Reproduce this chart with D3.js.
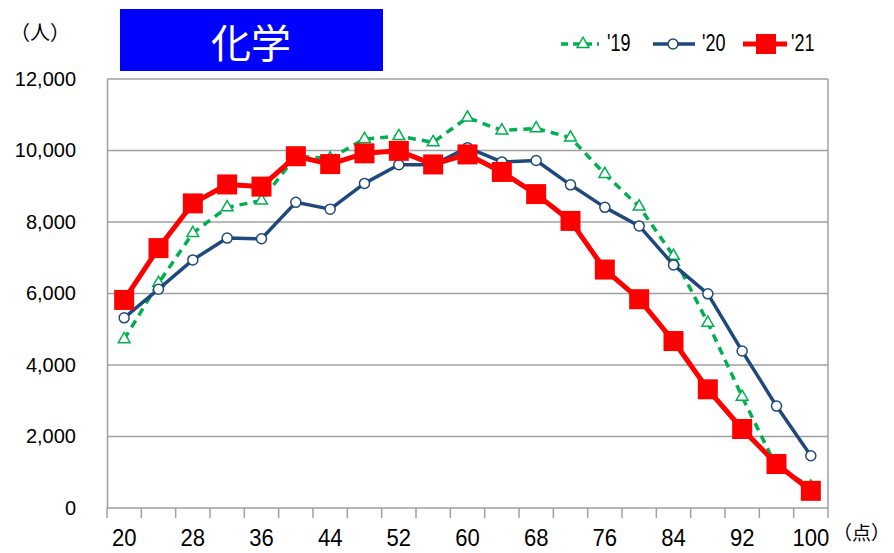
<!DOCTYPE html>
<html lang="ja">
<head>
<meta charset="utf-8">
<script src="https://d3js.org/d3.v7.min.js"></script>
<style>
  body { margin: 0; background: #fff; }
  svg text { font-family: "Liberation Sans", Arial, sans-serif; fill: #000; }
  svg text.jp { font-family: "Noto Sans CJK JP", sans-serif; }
</style>
</head>
<body>
<div class="display1"></div>
<script>
// scores (点)
var scores = [20,24,28,32,36,40,44,48,52,56,60,64,68,72,76,80,84,88,92,96,100];
var tickLabels = [20,28,36,44,52,60,68,76,84,92,100];
var yTicks = [0,2000,4000,6000,8000,10000,12000];

// number of people per score
var y19 = [4720,6290,7690,8410,8600,9840,9780,10320,10400,10230,10920,10560,10620,10360,9340,8430,7050,5180,3110,1150,600];
var y20 = [5320,6120,6940,7550,7530,8550,8360,9080,9600,9600,10080,9680,9720,9040,8410,7890,6800,5990,4390,2850,1460];
var y21 = [5820,7270,8520,9050,8990,9840,9620,9920,9990,9610,9890,9400,8780,8030,6670,5840,4670,3320,2210,1230,480];

var width = 894, height = 553;
var svg = d3.select('.display1').append('svg').attr('width', width).attr('height', height);

var x = d3.scaleBand().domain(scores).range([107, 828]);
var y = d3.scaleLinear().domain([0, 12000]).range([508, 79]);
var cx = function(d) { return x(d) + x.bandwidth() / 2; };

// gridlines
svg.append('g').selectAll('line').data(yTicks.slice(1)).join('line')
  .attr('x1', 107).attr('x2', 828)
  .attr('y1', function(d) { return y(d); }).attr('y2', function(d) { return y(d); })
  .attr('stroke', '#a0a0a0').attr('stroke-width', 1.5);

// right border
svg.append('line').attr('x1', 828).attr('x2', 828).attr('y1', y(12000)).attr('y2', y(0))
  .attr('stroke', '#a0a0a0').attr('stroke-width', 1.5);

// y axis
var yAxis = svg.append('g').attr('transform', 'translate(107,0)')
  .call(d3.axisLeft(y).tickValues(yTicks).tickSize(0).tickPadding(31).tickFormat(d3.format(',')));
yAxis.select('.domain').attr('stroke', '#a0a0a0').attr('stroke-width', 1.5);
yAxis.selectAll('text').style('font-size', '20px');

// x axis (ticks at band edges)
var xa = svg.append('g');
xa.append('line').attr('x1', 107).attr('x2', 828).attr('y1', 508).attr('y2', 508)
  .attr('stroke', '#a0a0a0').attr('stroke-width', 1.5);
var edges = scores.map(function(d) { return x(d); }).concat([828]);
xa.selectAll('.tk').data(edges).join('line').attr('class', 'tk')
  .attr('x1', function(d) { return d; }).attr('x2', function(d) { return d; })
  .attr('y1', 508).attr('y2', 518).attr('stroke', '#a0a0a0').attr('stroke-width', 1.5);
xa.selectAll('text').data(tickLabels).join('text')
  .attr('transform', function(d) { return 'translate(' + cx(d) + ',546) scale(0.92,1)'; })
  .attr('text-anchor', 'middle')
  .style('font-size', '24px').text(function(d) { return d; });

// series
var series = [
  { name: "'19", vals: y19, color: '#00b050', width: 3.5, dash: '8,6', marker: 'tri' },
  { name: "'20", vals: y20, color: '#1f497d', width: 3.5, dash: null, marker: 'circle' },
  { name: "'21", vals: y21, color: '#ff0000', width: 5, dash: null, marker: 'square' }
];

function drawMarker(g, type, color) {
  if (type === 'tri') {
    g.append('path').attr('d', d3.symbol(d3.symbolTriangle, 60)())
      .attr('fill', '#fff').attr('stroke', color).attr('stroke-width', 1.5);
  } else if (type === 'circle') {
    g.append('circle').attr('r', 5).attr('fill', '#fff').attr('stroke', color).attr('stroke-width', 1.5);
  } else {
    g.append('rect').attr('x', -10).attr('y', -10).attr('width', 20).attr('height', 20).attr('fill', color);
  }
}

var line = d3.line().x(function(d) { return cx(d[0]); }).y(function(d) { return y(d[1]); });

series.forEach(function(s) {
  var pts = scores.map(function(sc, i) { return [sc, s.vals[i]]; });
  svg.append('path').datum(pts).attr('d', line)
    .attr('fill', 'none').attr('stroke', s.color).attr('stroke-width', s.width)
    .attr('stroke-dasharray', s.dash).attr('stroke-linejoin', 'round');
  pts.forEach(function(p) {
    var g = svg.append('g').attr('transform', 'translate(' + cx(p[0]) + ',' + y(p[1]) + ')');
    drawMarker(g, s.marker, s.color);
  });
});

// legend
var legLine = [[561, 599], [653, 695], [743, 787]];
var legMark = [583, 673, 766];
var legText = [607, 702, 791];
series.forEach(function(s, i) {
  svg.append('line').attr('x1', legLine[i][0]).attr('x2', legLine[i][1]).attr('y1', 44).attr('y2', 44)
    .attr('stroke', s.color).attr('stroke-width', s.width).attr('stroke-dasharray', s.dash ? '7,5' : null);
  var m = svg.append('g').attr('transform', 'translate(' + legMark[i] + ',44)');
  drawMarker(m, s.marker, s.color);
  svg.append('text').attr('transform', 'translate(' + legText[i] + ',51) scale(0.75,1)')
    .style('font-size', '24px').text(s.name);
});

// title box
svg.append('rect').attr('x', 120).attr('y', 9).attr('width', 263).attr('height', 62).attr('fill', '#0000ff');
svg.append('text').attr('class', 'jp').attr('x', 251).attr('y', 58).attr('text-anchor', 'middle')
  .style('font-size', '40px').style('fill', '#fff').text('化学');

// unit labels
svg.append('text').attr('class', 'jp').attr('x', 10).attr('y', 40).style('font-size', '20px').text('（人）');
svg.append('text').attr('class', 'jp').attr('x', 833).attr('y', 540).style('font-size', '19px').text('（点）');
</script>
</body>
</html>
